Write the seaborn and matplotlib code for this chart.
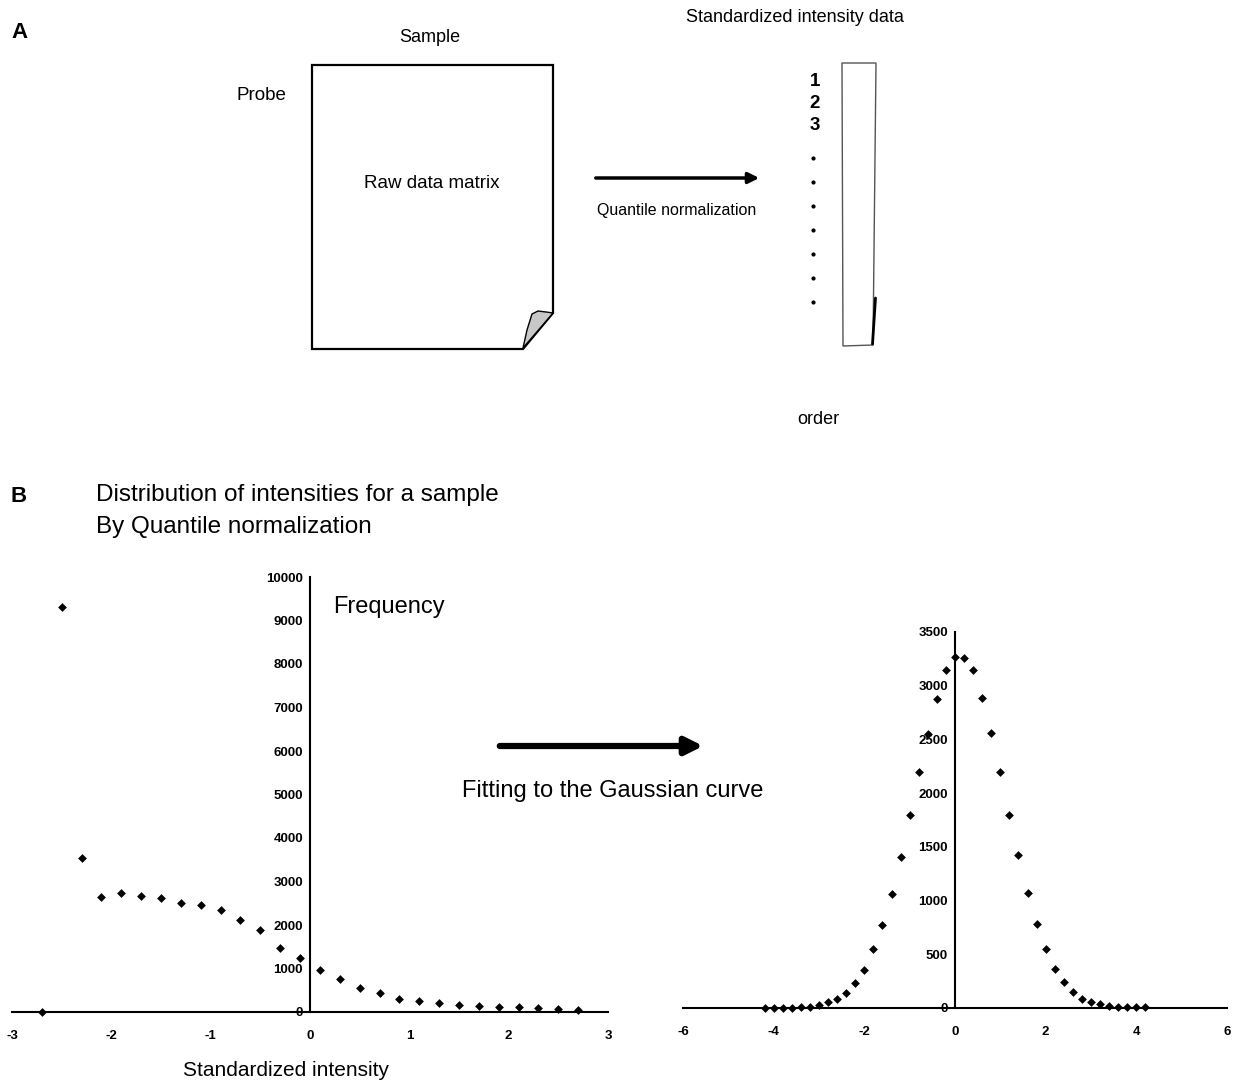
import matplotlib
matplotlib.use('Agg')
import matplotlib.pyplot as plt
import matplotlib.patches as mpatches
import seaborn as sns
import pandas as pd

sns.set_style('white')
plt.rcParams['font.family'] = ['Liberation Sans', 'DejaVu Sans']
plt.rcParams['text.color'] = 'black'
plt.rcParams['xtick.color'] = 'black'
plt.rcParams['ytick.color'] = 'black'
plt.rcParams['axes.labelcolor'] = 'black'

# Panel B, left: intensity distribution before fitting
raw_x = [-2.7, -2.5, -2.3, -2.1, -1.9, -1.7, -1.5, -1.3, -1.1, -0.9, -0.7, -0.5, -0.3, -0.1,
         0.1, 0.3, 0.5, 0.7, 0.9, 1.1, 1.3, 1.5, 1.7, 1.9, 2.1, 2.3, 2.5, 2.7]
raw_freq = [0, 9300, 3550, 2650, 2730, 2670, 2620, 2500, 2460, 2340, 2110, 1880, 1470, 1240,
            960, 760, 550, 440, 300, 250, 210, 160, 140, 115, 110, 90, 70, 45]

# Panel B, right: after fitting to the Gaussian curve
fit_x = [-4.2, -4.0, -3.8, -3.6, -3.4, -3.2, -3.0, -2.8, -2.6, -2.4, -2.2, -2.0, -1.8, -1.6,
         -1.4, -1.2, -1.0, -0.8, -0.6, -0.4, -0.2, 0.0, 0.2, 0.4, 0.6, 0.8, 1.0, 1.2, 1.4,
         1.6, 1.8, 2.0, 2.2, 2.4, 2.6, 2.8, 3.0, 3.2, 3.4, 3.6, 3.8, 4.0, 4.2]
fit_freq = [0, 0, 0, 0, 8, 8, 30, 55, 80, 140, 230, 355, 545, 770,
            1065, 1410, 1800, 2200, 2550, 2880, 3150, 3270, 3260, 3150, 2890, 2560, 2200, 1800, 1420,
            1070, 780, 550, 360, 245, 150, 85, 55, 35, 20, 12, 8, 6, 6]

raw_xticks = [-3, -2, -1, 0, 1, 2, 3]
raw_yticks = [0, 1000, 2000, 3000, 4000, 5000, 6000, 7000, 8000, 9000, 10000]
fit_xticks = [-6, -4, -2, 0, 2, 4, 6]
fit_yticks = [0, 500, 1000, 1500, 2000, 2500, 3000, 3500]
order_labels = ['1', '2', '3']

W, H = 1237, 1082
fig = plt.figure(figsize=(W / 100, H / 100), dpi=100)


def px_box(x0, y0, x1, y1):
    return [x0 / W, 1 - y1 / H, (x1 - x0) / W, (y1 - y0) / H]


def style_axis(ax, xticks, yticks, xlim, ylim):
    ax.set_xlim(xlim)
    ax.set_ylim(ylim)
    ax.set_xticks(xticks)
    ax.set_yticks(yticks)
    ax.set_xticklabels([str(t) for t in xticks])
    ax.set_yticklabels([str(t) for t in yticks])
    ax.spines['left'].set_position(('data', 0))
    ax.spines['bottom'].set_position(('data', 0))
    for s in ['top', 'right']:
        ax.spines[s].set_visible(False)
    for s in ['left', 'bottom']:
        ax.spines[s].set_linewidth(1.5)
        ax.spines[s].set_color('black')
    ax.tick_params(axis='both', direction='inout', length=4, width=1, colors='black',
                   pad=3, labelsize=9.5)
    ax.tick_params(axis='x', pad=11)
    for lbl in ax.get_xticklabels() + ax.get_yticklabels():
        lbl.set_fontweight('bold')
    ax.set_xlabel('')
    ax.set_ylabel('')
    ax.patch.set_alpha(0)


axL = fig.add_axes(px_box(12, 577, 608, 1012))
sns.scatterplot(x=raw_x, y=raw_freq, marker='D', s=20, color='black', linewidth=0,
                clip_on=False, ax=axL)
style_axis(axL, raw_xticks, raw_yticks, (-3, 3), (0, 10000))

axR = fig.add_axes(px_box(683, 632, 1227, 1008))
sns.scatterplot(x=fit_x, y=fit_freq, marker='D', s=20, color='black', linewidth=0,
                clip_on=False, ax=axR)
style_axis(axR, fit_xticks, fit_yticks, (-6, 6), (0, 3500))

# overlay in pixel coordinates for the diagram and free text
ov = fig.add_axes([0, 0, 1, 1])
ov.set_xlim(0, W)
ov.set_ylim(H, 0)
ov.axis('off')
ov.patch.set_visible(False)

# ---- panel A ----
ov.text(11, 32, 'A', fontsize=16, fontweight='bold', ha='left', va='center')
ov.text(430, 37, 'Sample', fontsize=13, ha='center', va='center')
ov.text(261, 95, 'Probe', fontsize=13.5, ha='center', va='center')

page = mpatches.Polygon([(312, 65), (553, 65), (553, 313), (523, 349), (312, 349)],
                        closed=True, facecolor='white', edgecolor='black', lw=1.6)
ov.add_patch(page)
curl = mpatches.Polygon([(532, 314), (538, 311), (546, 312), (553, 313), (523, 348), (527, 330)],
                        closed=True, facecolor='#c8c8c8', edgecolor='black', lw=1)
ov.add_patch(curl)
ov.text(432, 183, 'Raw data matrix', fontsize=13.5, ha='center', va='center')

ov.annotate('', xy=(762, 178), xytext=(593, 178),
            arrowprops=dict(arrowstyle='-|>', lw=2.5, color='black', mutation_scale=16))
ov.text(677, 210, 'Quantile normalization', fontsize=11.5, ha='center', va='center')

ov.text(795, 18, 'Standardized intensity data', fontsize=13, ha='center', va='center')
col = mpatches.Polygon([(842, 63), (876, 63), (873, 345), (843, 346)],
                       closed=True, facecolor='white', edgecolor='#555555', lw=1)
ov.add_patch(col)
ov.plot([875.5, 872.5], [298, 344], color='black', lw=2)
for i, lab in enumerate(order_labels):
    ov.text(815, 81 + i * 22.5, lab, fontsize=13.5, fontweight='bold', ha='center', va='center')
ov.plot([813] * 7, [158, 182, 206, 230, 254, 278, 302], ls='none', marker='o',
        ms=2, color='black')
ov.text(818, 419, 'order', fontsize=13, ha='center', va='center')

# ---- panel B ----
ov.text(11, 497, 'B', fontsize=16, fontweight='bold', ha='left', va='center')
ov.text(96, 495, 'Distribution of intensities for a sample', fontsize=17.5, ha='left', va='center')
ov.text(96, 527, 'By Quantile normalization', fontsize=17.5, ha='left', va='center')
ov.text(333, 607, 'Frequency', fontsize=17, ha='left', va='center')
ov.annotate('', xy=(706, 746), xytext=(497, 746),
            arrowprops=dict(arrowstyle='-|>', lw=4.5, color='black', mutation_scale=26))
ov.text(613, 791, 'Fitting to the Gaussian curve', fontsize=17, ha='center', va='center')
ov.text(286, 1070, 'Standardized intensity', fontsize=15, ha='center', va='center')

fig.savefig('out.png', dpi=100, facecolor='white')
